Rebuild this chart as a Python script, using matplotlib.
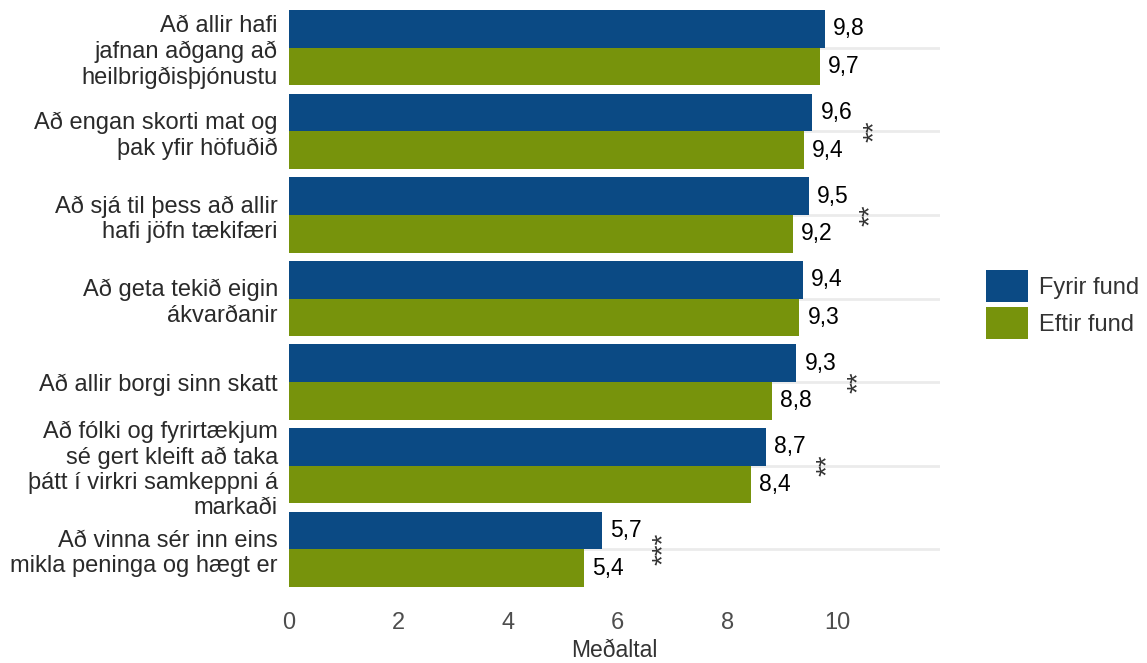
import matplotlib
matplotlib.use("Agg")
import matplotlib.pyplot as plt
from matplotlib.patches import Patch
import numpy as np

plt.rcParams['font.family'] = ['Liberation Sans', 'DejaVu Sans']

categories = [
    "Að allir hafi\njafnan aðgang að\nheilbrigðisþjónustu",
    "Að engan skorti mat og\nþak yfir höfuðið",
    "Að sjá til þess að allir\nhafi jöfn tækifæri",
    "Að geta tekið eigin\nákvarðanir",
    "Að allir borgi sinn skatt",
    "Að fólki og fyrirtækjum\nsé gert kleift að taka\nþátt í virkri samkeppni á\nmarkaði",
    "Að vinna sér inn eins\nmikla peninga og hægt er",
]
fyrir = [9.78, 9.55, 9.49, 9.38, 9.26, 8.70, 5.71]
eftir = [9.69, 9.40, 9.20, 9.31, 8.81, 8.43, 5.38]
fyrir_labels = ["9,8", "9,6", "9,5", "9,4", "9,3", "8,7", "5,7"]
eftir_labels = ["9,7", "9,4", "9,2", "9,3", "8,8", "8,4", "5,4"]
signif = ["", "**", "**", "", "**", "**", "***"]
series_names = ["Fyrir fund", "Eftir fund"]
xticks = [0, 2, 4, 6, 8, 10]

blue = "#0B4A84"
green = "#77930C"

fig = plt.figure(figsize=(11.47, 6.63), dpi=100)
ax = fig.add_axes([289/1147, 1 - 591/663, (940-289)/1147, 585/663])

y = np.arange(len(categories))
h = 0.45
ax.barh(y - h/2, fyrir, height=h, color=blue, zorder=2)
ax.barh(y + h/2, eftir, height=h, color=green, zorder=2)

for i in range(len(categories)):
    ax.text(fyrir[i] + 0.15, y[i] - h/2, fyrir_labels[i], va='center', ha='left',
            fontsize=16.5, color='black', zorder=3)
    ax.text(eftir[i] + 0.15, y[i] + h/2, eftir_labels[i], va='center', ha='left',
            fontsize=16.5, color='black', zorder=3)
    if signif[i]:
        ax.text(max(fyrir[i], eftir[i]) + 1.13, y[i], signif[i], rotation=90,
                va='center', ha='center', fontsize=20, color='#333333', zorder=3)

ax.set_xlim(0, 11.88)
ax.set_ylim(len(categories) - 0.5, -0.5)
ax.set_yticks(y)
ax.set_yticklabels(categories, fontsize=17, color='#2A2A2A', linespacing=1.2)
ax.set_xticks(xticks)
ax.set_xticklabels([str(t) for t in xticks], fontsize=17, color='#4D4D4D')
ax.tick_params(axis='both', length=0)
ax.tick_params(axis='y', pad=8)
ax.tick_params(axis='x', pad=15)
ax.set_xlabel("Meðaltal", fontsize=16.5, color='#333333', labelpad=3.5)

ax.grid(axis='y', color='#EBEBEB', linewidth=2, zorder=0)
ax.grid(axis='x', visible=False)
for s in ax.spines.values():
    s.set_visible(False)

handles = [Patch(facecolor=blue, label=series_names[0]),
           Patch(facecolor=green, label=series_names[1])]
leg = fig.legend(handles=handles, loc='center left', bbox_to_anchor=(969/1147, 1 - 304.5/663),
                 frameon=False, fontsize=17, handlelength=1.78, handleheight=1.74,
                 handletextpad=0.5, labelspacing=0.2, borderpad=0.2)
for t in leg.get_texts():
    t.set_color('#333333')

fig.savefig("out.png", dpi=100)
